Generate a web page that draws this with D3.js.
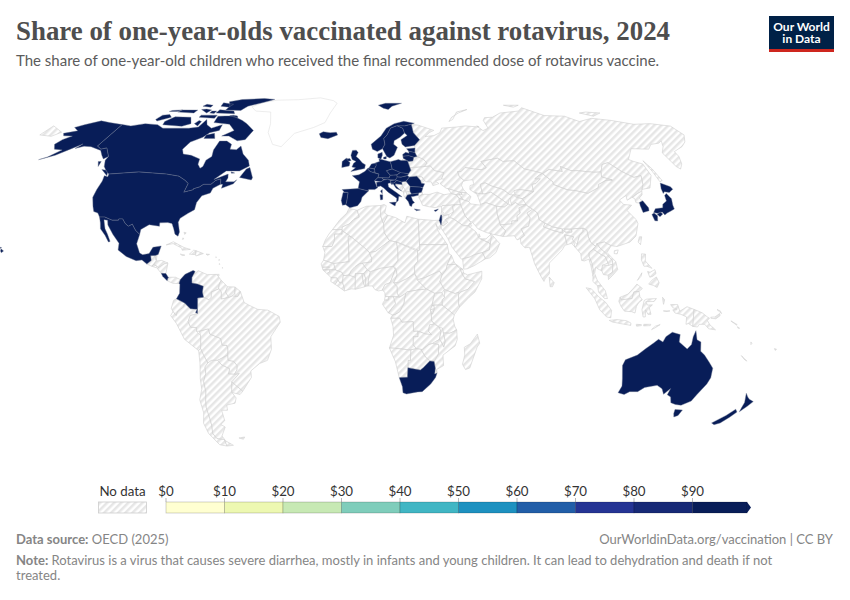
<!DOCTYPE html>
<html>
<head>
<meta charset="utf-8">
<script src="https://cdn.jsdelivr.net/npm/d3@7"></script>
<style>
body { margin: 0; background: #fff; }
svg { display: block; font-family: Lato, sans-serif; }
</style>
</head>
<body>
<svg id="chart" width="850" height="600"></svg>
<script>
const legend_values = [0, 10, 20, 30, 40, 50, 60, 70, 80, 90];
const legend_colors = ["#ffffd1", "#edf8b1", "#c7e9b4", "#7fcdbb", "#41b6c4", "#1d91c0", "#225ea8", "#253494", "#172976", "#081d58"];

// the picture only shows that all of these sit in the top bin
const reported_countries = ["USA", "Canada", "Mexico", "Costa Rica", "Colombia", "Iceland", "Ireland", "UK", "Norway", "Sweden", "Finland", "Denmark", "Estonia", "Latvia", "Lithuania", "Poland", "Germany", "Netherlands", "Belgium", "Luxembourg", "France", "Spain", "Portugal", "Switzerland", "Austria", "Italy", "Czechia", "Slovakia", "Hungary", "Slovenia", "Croatia", "Romania", "Bulgaria", "Greece", "Cyprus", "Israel", "South Korea", "Japan", "Australia", "New Zealand", "South Africa"];
const reported_shares = [95, 95, 95, 95, 95, 95, 95, 95, 95, 95, 95, 95, 95, 95, 95, 95, 95, 95, 95, 95, 95, 95, 95, 95, 95, 95, 95, 95, 95, 95, 95, 95, 95, 95, 95, 95, 95, 95, 95, 95, 95];

// rough country outlines, "lon,lat lon,lat ..." one string per landmass
const outlines = {
	"Canada": ["-141,69.6 -135,69 -128,70 -120,69.5 -115,68 -108,68 -100,68 -95,68.5 -94,72 -91,69.5 -87,68 -82,69.5 -81.5,67 -86,66 -88,64 -93,62 -94.5,59 -92.5,57 -88,56.5 -82.5,55 -82,52.9 -80,51.3 -79,52 -79,54.5 -77,56 -78,58.7 -77.5,62.4 -73.5,62.4 -70,61 -69.5,59 -66,58.8 -64.5,60.3 -61.5,57 -57.5,54.5 -56,52.2 -60,50.2 -66.5,50.2 -71,46.9 -65,49 -64.5,47.5 -65,46 -61,46 -60,46.8 -61,45.2 -66,43.5 -66,45 -67,45 -67.8,47.1 -70,46.5 -71.5,45 -75,45 -76.5,44 -79,43.3 -79,42.9 -83,42 -82.5,45.3 -84.5,46.5 -88.5,48.2 -95,49 -123,49 -125,50 -128,52 -130,54.5 -130,56 -135,59.5 -137.5,59 -141,60.3",
		"-80,73.7 -72,71.5 -68,70 -62,67 -64,63 -68,62.5 -74,64.5 -78,64.5 -73,67 -78,69.7 -88,70.5 -89,73.5",
		"-117,69.5 -105,68.8 -101,70 -105,73 -115,73.2 -118,71",
		"-125,72 -123,71.2 -117,73 -120,74.3 -124,74",
		"-62,82.5 -70,83.1 -85,82.4 -92,81 -88,78.5 -88,76.5 -78,76.3 -76,78.5 -68,80.5",
		"-92,75 -80,74.7 -82,76 -92,76.7",
		"-95,80.3 -87,79.5 -88,78 -94,78.5",
		"-117,75.5 -106,75 -106,76.5 -116,76.6",
		"-100,73 -90,72.5 -90,74 -100,74",
		"-87,63.5 -81,63.5 -83,65.7 -87,65",
		"-59,47.7 -53,46.7 -52.7,47.6 -55.5,51.6 -57,51",
		"-128,50.8 -123.5,48.4 -124,49.5 -125.5,50.5",
		"-133,54 -131.5,54 -131,52",
		"-122,76.3 -116,76.6 -118,75.8 -123,75.8",
		"-104,76.8 -98,75 -97,76.5 -101,77",
		"-96,75 -93,74.8 -93,76 -96,76",
		"-106,78.5 -100,78 -100,79 -105,79.5",
		"-99,70 -96,69 -96,71 -98,71.5",
		"-82,73.7 -76,72.7 -77,73.6 -80,74",
		"-64,49.9 -62,49.4 -63.5,49.3"],
	"USA": ["-123,49 -95,49 -88.5,48.2 -84.5,46.5 -82.5,45.3 -83,42 -79,42.9 -79,43.3 -76.5,44 -75,45 -71.5,45 -70,46.5 -67.8,47.1 -67,45 -70,43.5 -70.5,41.7 -74,40.6 -75.5,38 -75.5,35.3 -78,33.9 -81,32 -81.4,30.5 -80,26.8 -80.3,25.2 -81.8,26 -82.8,28 -84,30 -86,30.4 -89.5,30.3 -89.3,29 -94,29.6 -97.2,27.8 -97.2,25.9 -99.5,27.5 -101.5,29.8 -103,29 -104.7,30 -106.5,31.8 -108.2,31.8 -108.2,31.3 -111,31.3 -114.8,32.5 -117.1,32.5 -118.5,34 -120.6,34.6 -122,36.6 -124,40 -124.2,43 -124,46.3 -124.7,48.4 -122.7,48",
		"-141,69.6 -141,60.3 -137.5,59 -135,59.5 -130,56 -131.5,55 -134,56.5 -137,58.5 -144,60 -148,60.2 -151.5,59.3 -150,61.2 -154,58.8 -158,56.5 -164,54.7 -161,55.8 -157.5,58.7 -162,59 -165,61 -164,63 -161,64.5 -166,64.6 -168,65.7 -162,66.8 -166.5,68.3 -163,69.5 -156.5,71.3 -150,70.5",
		"-156.1,20.4 -154.8,19.6 -155.6,18.9 -156.1,19.6",
		"-156.7,21 -156,20.9 -156.4,20.5",
		"-158.3,21.7 -157.6,21.4 -158.1,21.2",
		"-159.8,22.2 -159.3,22.2 -159.5,21.8"],
	"Mexico": ["-117.1,32.5 -114.8,32.5 -111,31.3 -108.2,31.3 -108.2,31.8 -106.5,31.8 -104.7,30 -103,29 -101.5,29.8 -99.5,27.5 -97.2,25.9 -97.8,22.3 -95.9,18.8 -94.5,18.2 -91.8,18.6 -90.5,21 -87,21.5 -87.8,18.3 -89,17.9 -91,17.8 -90.5,16 -92.2,14.6 -94.5,16.2 -97,15.9 -101.5,17.5 -105.4,20 -105.5,22.5 -109,26 -112.2,29.5 -113,31.3 -114.7,31.5 -113,28 -111.3,26 -109.5,23.2 -110.2,23 -112.2,25.5 -115,28 -115.8,30.3"],
	"Greenland": ["-73,78.2 -68,80.5 -60,82 -45,82.3 -30,83.5 -20,81.7 -17,80 -20,75 -22,70.5 -28,68.3 -38,65.7 -43,60 -48,61 -53,66 -54,70 -58,75.5 -68,76"],
	"Guatemala": ["-92.2,14.6 -90.5,16 -91,17.8 -89.2,17.8 -88.3,15.8 -89.2,14.5 -90,13.8"],
	"Belize": ["-89.2,17.8 -88.3,18.4 -88.3,16"],
	"El Salvador": ["-90,13.8 -89.2,14.4 -87.7,13.8 -88,13.2"],
	"Honduras": ["-89.2,14.5 -88.3,15.8 -86,16 -83.2,15 -84.7,14.7 -87,13 -87.7,13.8"],
	"Nicaragua": ["-87.6,13 -84.7,14.7 -83.2,15 -83.7,11 -85.7,11.1"],
	"Costa Rica": ["-85.7,11.1 -83.7,11 -82.6,9.6 -83,8.3 -85,10"],
	"Panama": ["-83,8.3 -82.6,9.6 -79.5,9.6 -77.4,8.7 -77.9,7.2 -80.5,7.3"],
	"Cuba": ["-84.9,21.9 -82,23.1 -77,20.9 -74.2,20.2 -77.7,19.9 -78,20.7 -82,22.4"],
	"Jamaica": ["-78.3,18.4 -76.3,18 -77.5,17.9"],
	"Haiti": ["-74.4,18.4 -72.7,19.9 -71.7,19.7 -71.7,18.2"],
	"Dominican Republic": ["-71.7,19.7 -68.4,18.6 -71.5,17.7 -71.7,18.2"],
	"Puerto Rico": ["-67.2,18.4 -65.7,18.3 -66.5,18"],
	"Bahamas": ["-78,26.7 -77,26.5 -77.5,25.9", "-78,24.6 -77.6,24.2 -78.2,24"],
	"Antilles": ["-61.7,10.7 -61,10.7 -61,10.1 -61.8,10.1", "-61.5,16.3 -61.1,16.2 -61.5,16", "-61.1,14.8 -60.9,14.5 -61.2,14.5", "-59.7,13.3 -59.5,13.1 -59.7,13", "-62.9,17.4 -62.6,17.2 -62.9,17.1"],
	"Colombia": ["-77.4,8.7 -75.5,10.7 -72.2,12.2 -71.3,11.8 -72.5,9.5 -72.4,7.4 -70,7 -67.5,6.2 -67.8,4 -67.3,2 -69.8,1.7 -69.9,-4.2 -70.7,-3.8 -70,-2.6 -72.9,-2.4 -75.3,-0.2 -78.8,1.4 -77.5,3.5 -77.5,7 -77.9,7.2"],
	"Venezuela": ["-72.2,12.2 -71.3,11.8 -71.6,10.8 -70,12.1 -66,10.6 -62,10.7 -60,8.5 -60.7,7 -61,5 -60.7,5.2 -64,4 -64,2 -65,1 -67.3,2 -67.8,4 -67.5,6.2 -70,7 -72.4,7.4 -72.5,9.5"],
	"Guyana": ["-60,8.5 -57.2,6 -58,4 -56.5,1.9 -59.8,1.3 -59.8,4 -61,5 -60.7,7"],
	"Suriname": ["-57.2,6 -54,5.9 -54,3.6 -55,2.5 -56.5,1.9 -58,4"],
	"French Guiana": ["-54,5.9 -51.7,4.2 -52.7,2.3 -54,2.3"],
	"Ecuador": ["-78.8,1.4 -75.3,-0.2 -75.6,-1.6 -78.3,-3.4 -79,-5 -80.3,-3.4 -81,-2.2 -80,0.8"],
	"Peru": ["-80.3,-3.4 -79,-5 -78.3,-3.4 -75.6,-1.6 -75.3,-0.2 -72.9,-2.4 -70,-2.6 -70.7,-3.8 -69.9,-4.2 -73,-5 -74,-7.3 -73,-9.4 -70.5,-9.5 -70.6,-11 -69,-12.5 -69.2,-16 -69.5,-17.5 -70.4,-18.3 -76,-14 -79,-8 -81.3,-5"],
	"Bolivia": ["-69.5,-10.9 -65.5,-10 -65,-12 -60.5,-13.7 -60,-16.2 -58,-16.3 -57.7,-18 -58,-20 -62.6,-22 -65.2,-22 -67,-23 -68.5,-20 -69.5,-17.5 -69.2,-16 -69,-12.5"],
	"Paraguay": ["-58,-20 -62.6,-22 -61,-23.8 -57.8,-25.2 -58.6,-27.2 -56,-27.3 -54.6,-25.6 -54.3,-24 -55.8,-22.3 -58,-22"],
	"Chile": ["-70.4,-18.3 -69.5,-17.5 -68.5,-20 -67,-23 -68.4,-24.5 -68.5,-27 -70,-30 -70,-34 -71,-37 -71.7,-40 -71.7,-44 -72,-47 -73,-50 -72,-52 -68.4,-52.4 -68.6,-55 -72,-54.5 -75,-50 -75.5,-46 -73.7,-42 -73.7,-37 -71.6,-33 -71.3,-29 -70.4,-23"],
	"Argentina": ["-65.2,-22 -62.6,-22 -61,-23.8 -57.8,-25.2 -58.6,-27.2 -56,-27.3 -53.8,-27 -57.6,-30.2 -58.2,-33 -58.4,-34.2 -57,-36.3 -58,-38.3 -62,-39 -62.3,-41 -65,-41 -65,-45 -67.5,-46.5 -65.8,-47.5 -69,-51 -68.4,-52.4 -72,-52 -73,-50 -72,-47 -71.7,-44 -71.7,-40 -71,-37 -70,-34 -70,-30 -68.5,-27 -68.4,-24.5 -67,-23",
		"-68.6,-52.7 -68.6,-55 -65.2,-54.7"],
	"Uruguay": ["-57.6,-30.2 -53.4,-33.7 -54.9,-35 -58.4,-34.2 -58.2,-33"],
	"Brazil": ["-51.7,4.2 -50,0 -48,-1 -44.3,-2.6 -40,-2.9 -35.2,-5.3 -34.8,-7.5 -39,-13 -39,-17.8 -41,-22 -44.5,-23.2 -48.6,-26 -48.7,-28.5 -53.4,-33.7 -57.6,-30.2 -53.8,-27 -56,-27.3 -54.6,-25.6 -54.3,-24 -55.8,-22.3 -58,-22 -58,-20 -57.7,-18 -58,-16.3 -60,-16.2 -60.5,-13.7 -65,-12 -65.5,-10 -69.5,-10.9 -70.6,-11 -70.5,-9.5 -73,-9.4 -74,-7.3 -73,-5 -69.9,-4.2 -69.8,1.7 -67.3,2 -65,1 -64,2 -64,4 -60.7,5.2 -59.8,4 -59.8,1.3 -56.5,1.9 -55,2.5 -54,2.3 -52.7,2.3"],
	"Falkland Islands": ["-61,-51.8 -58,-51.4 -59,-52.3"],
	"Morocco": ["-5.9,35.8 -2.2,35.1 -1.2,32.5 -3.6,31.6 -5.5,29.9 -8.7,28.7 -8.7,27.7 -13,27.7 -9.8,31.5 -6.8,34"],
	"Western Sahara": ["-13,27.7 -8.7,27.7 -8.7,26 -12,26 -12,23.4 -13,21.3 -17,21.3 -16,23.7 -14.5,26"],
	"Algeria": ["-2.2,35.1 2,36.6 8.6,36.9 8.3,33 9.5,30 9.8,26.5 12,23.5 5.8,19.4 3.2,19 1.2,20.7 -4.8,25 -8.7,27.3 -8.7,28.7 -5.5,29.9 -3.6,31.6 -1.2,32.5"],
	"Tunisia": ["8.6,36.9 10,37.3 11,36.8 10.2,34 11.5,33.2 9.5,30 8.3,33"],
	"Libya": ["11.5,33.2 15,32.3 19,30.3 20,32.8 25,31.7 25,20 24,19.5 24,20 15,23 12,23.5 9.8,26.5 9.5,30"],
	"Egypt": ["25,31.7 32,31.2 34.2,31.3 34.9,29.5 34.3,27.8 33.6,28 32.6,30 33.5,27 35.7,23.9 37,22 25,22"],
	"Mauritania": ["-17,21.3 -13,21.3 -12,23.4 -12,26 -8.7,26 -8.7,27.3 -4.8,25 -6,25 -5.5,15.5 -12.2,14.8 -16.5,16.1 -16,19"],
	"Mali": ["-12.2,14.8 -5.5,15.5 -6,25 -4.8,25 1.2,20.7 3.2,19 4.2,16.8 4,15.4 0.2,14.9 -1,14.8 -3,13.6 -4.5,12.2 -5.5,10.4 -8,10.2 -8.5,11.4 -11.4,12.4"],
	"Senegal": ["-16.5,16.1 -12.2,14.8 -11.4,12.4 -16.7,12.4 -17.5,14.7"],
	"Gambia": ["-16.8,13.5 -14,13.6 -14,13.2 -16.8,13.2"],
	"Guinea-Bissau": ["-16.7,12.4 -13.7,12.4 -13.7,11.7 -15,11"],
	"Guinea": ["-13.7,12.4 -11.4,12.4 -8.5,11.4 -8,10.2 -8.3,7.7 -9.4,7.4 -10.7,9.3 -13.2,9.5 -15,11 -13.7,11.7"],
	"Sierra Leone": ["-13.2,9.5 -10.7,9.3 -10.3,8.4 -11.4,6.9 -13.3,8"],
	"Liberia": ["-11.4,6.9 -10.3,8.4 -9.4,7.4 -8.3,7.6 -7.5,5.5 -7.5,4.4"],
	"Cote d'Ivoire": ["-7.5,4.4 -7.5,5.5 -8.3,7.7 -8,10.2 -5.5,10.4 -2.8,9.6 -2.9,5.1 -4.5,5.2"],
	"Burkina Faso": ["-5.5,10.4 -4.5,12.2 -3,13.6 -1,14.8 0.2,14.9 2.2,12.5 0.9,11 -2.8,11 -2.8,9.6"],
	"Ghana": ["-2.9,5 -2.8,11 0,11 0.5,8 1.2,6"],
	"Togo": ["0,11 0.9,11 1.6,9 1.6,6.2 1.2,6 0.5,8"],
	"Benin": ["0.9,11 2.2,12.5 3.6,11.7 2.7,8.5 2.7,6.3 1.6,6.2 1.6,9"],
	"Niger": ["0.2,14.9 4,15.4 4.2,16.8 3.2,19 5.8,19.4 12,23.5 15,23 15.5,20 15.5,16 13.5,13.7 8,13 3.6,11.7 2.2,12.5"],
	"Nigeria": ["2.7,6.3 2.7,8.5 3.6,11.7 8,13 13.5,13.7 14.2,12.4 12,7.5 9.8,6.8 8.6,4.7 7,4.4 5.5,4.9 4.4,6.3"],
	"Cameroon": ["8.6,4.7 9.8,6.8 12,7.5 14.2,12.4 14.5,13 15,10.5 13.5,7.5 15,6 15,3.5 16,2 13.3,2.2 9.8,2.3 9.7,3.9"],
	"Chad": ["13.5,13.7 15.5,16 15.5,20 15,23 24,19.5 24,15.7 22.5,14 22.5,11 19,9 15.5,7.5 13.5,7.5 15,10.5 14.5,13"],
	"Central African Republic": ["15,6 13.5,7.5 15.5,7.5 19,9 22.5,11 23.5,8.7 27.4,5.1 24,4.8 19,4 18.6,3.5 16,2 15,3.5"],
	"Sudan": ["24,19.5 25,20 25,22 37,22 37.5,18.5 38.5,18 36.5,14.3 36,12.5 34.2,10.5 33,12 32,11.5 27,9.5 24,8.7 22.5,11 22.5,14 24,15.7"],
	"South Sudan": ["23.5,8.7 24,8.7 27,9.5 32,11.5 33,12 34.2,10.5 33.2,8 35,5 34,3.7 30.8,3.5 27.4,5.1"],
	"Eritrea": ["36.5,14.3 38.5,18 39.7,15 43.1,12.6 42,12.8 40,14.5"],
	"Ethiopia": ["36.5,14.3 40,14.5 42,12.8 42.7,11 44,9 48,8 45,5 42,4 39.5,3.4 35.9,4.6 35,5 33.2,8 34.2,10.5 36,12.5"],
	"Djibouti": ["42,12.8 43.2,12.5 43.3,11.3 42.7,11"],
	"Somalia": ["42.7,11 43.3,11.3 45,10.5 51.2,11.9 51,9 48,4 45.5,2 41.5,-1.7 41,-0.9 41,3 42,4 45,5 48,8 44,9"],
	"Kenya": ["35,5 35.9,4.6 39.5,3.4 41,3.9 41,-0.9 41.5,-1.7 39.2,-4.7 37.7,-3.6 34,-1 34,1 35,1.9"],
	"Uganda": ["30.8,3.5 34,3.7 35,1.9 34,1 34,-1 30.5,-1 29.6,-1.4 30.2,1.2"],
	"Rwanda": ["29,-1.5 30.5,-1 30.8,-2.3 29,-2.8"],
	"Burundi": ["29,-2.8 30.8,-2.4 30,-4.4 29.4,-4.4"],
	"Tanzania": ["30.5,-1 34,-1 37.7,-3.6 39.2,-4.7 38.8,-6.5 39.5,-9 40.4,-10.5 37.5,-11.7 34.9,-11.6 33,-9.5 29.6,-7 29.4,-4.4 30,-4.4 30.8,-2.4"],
	"DR Congo": ["12.2,-6 13,-4.7 14,-4.5 16,-3.5 17.7,-0.5 18.2,2 18.6,3.5 19,4 24,4.8 27.4,5.1 30.8,3.5 30.2,1.2 29.6,-1.4 29,-2.8 29.4,-4.4 29.6,-7 30.8,-8.2 28.8,-8.5 28.4,-11 29.8,-12.2 27.2,-12 23.9,-10.9 22,-11 21.8,-7.3 17,-7.5 16,-6"],
	"Congo": ["11.2,-4 13,-4.7 14,-4.5 16,-3.5 17.7,-0.5 18.2,2 18.6,3.5 16,2 13.3,2.2 14.2,-0.5 12.5,-2.3"],
	"Gabon": ["9.8,1 9,0 8.7,-0.7 11.2,-4 12.5,-2.3 14.2,-0.5 13.3,2.2 11.3,2.2 11.3,1"],
	"Equatorial Guinea": ["9.6,1 11.3,1 11.3,2.2 9.8,2.3"],
	"Angola": ["12.2,-6 16,-6 17,-7.5 21.8,-7.3 22,-11 23.9,-10.9 24,-13 22,-13 22,-16 23.4,-17.6 21,-18 20,-18 14,-17.4 11.8,-17.3 13.5,-12.5 13.2,-9"],
	"Zambia": ["22,-13 24,-13 23.9,-10.9 27.2,-12 29.8,-12.2 28.4,-11 28.8,-8.5 30.8,-8.2 33,-9.5 33.7,-11 33.2,-14 30.2,-15.6 28.7,-16 26,-17.9 23.4,-17.6 22,-16"],
	"Malawi": ["33,-9.5 34.3,-9.7 34.9,-12 35.7,-14.7 35.2,-17 34.3,-15.5 33.2,-14 33.7,-11"],
	"Mozambique": ["40.4,-10.5 37.5,-11.7 34.9,-11.6 34.9,-12 35.7,-14.7 35.2,-17 34.3,-15.5 33.2,-14 30.2,-15.6 32.9,-16 33,-19.5 31.3,-22.4 32,-25 32.9,-26.8 32.6,-25.5 35.5,-24 35,-20 40,-16.5 40.8,-14"],
	"Zimbabwe": ["26,-17.9 28.7,-16 30.2,-15.6 32.9,-16 33,-19.5 31.3,-22.4 29.4,-22.2 27.5,-20.8 25.3,-17.8"],
	"Botswana": ["21,-18 23.4,-17.6 25.3,-17.8 27.5,-20.8 29.4,-22.2 26.8,-24.7 25.5,-25.7 23,-25.3 20,-24.8 20,-22 21,-22"],
	"Namibia": ["11.8,-17.3 14,-17.4 20,-18 21,-18 21,-22 20,-22 20,-28.4 17,-28.5 16.4,-28.6 14.5,-22.5"],
	"South Africa": ["16.4,-28.6 17,-28.5 20,-28.4 20,-24.8 23,-25.3 25.5,-25.7 26.8,-24.7 29.4,-22.2 31.3,-22.4 32,-25 31.9,-27.2 32.9,-26.8 32.4,-28.5 30.5,-31 27,-33.9 25,-34 20,-34.8 18.4,-34.3 18,-32"],
	"Lesotho": ["27,-29.6 28.5,-28.6 29.4,-29.5 28,-30.6"],
	"Eswatini": ["31,-25.8 32,-26 31.9,-27.2 31,-27.2"],
	"Madagascar": ["49.3,-12 50.5,-15.5 49.5,-17 47,-24.9 45.2,-25.5 43.7,-23.5 44.4,-20 44,-17 46.5,-15.7"],
	"Iceland": ["-24,65.5 -22,66.4 -18,66 -14.5,66.2 -13.6,65 -18.7,63.4 -22.7,63.9"],
	"Ireland": ["-10,54 -8,55.3 -7.2,55 -6.8,54.1 -6,53.5 -6.4,52.2 -10,51.6"],
	"UK": ["-5,58.5 -3,58.6 -2,57.6 -3,56 -1.5,55 0.2,53.4 1.7,52.7 1.3,51.2 -1.5,50.7 -5.5,50 -3.2,51.5 -5,51.8 -4.2,53.3 -3,54 -5,54.8 -5.7,56.5",
		"-7.8,55 -6.2,55.2 -5.5,54.4 -6.8,54.1"],
	"Norway": ["4.9,61 5.5,59 8,58 10.8,59.2 12.3,61 12,63.5 14,65 16.5,68 20,69 25,69 29,69.7 31,70.2 25,71.1 19,70 14,68 10.5,64.5",
		"11,79 16,80 27,80 20,78.5 17,76.8 14,77.5"],
	"Sweden": ["10.8,59.2 12.7,56 14.2,55.4 16.5,56.5 18.8,59.8 17,61 17.5,62.5 21,64 24,65.8 23.5,68 20.5,69.1 16.5,68 14,65 12,63.5 12.3,61"],
	"Finland": ["21.5,61 23,59.9 28,60.5 31.5,62.9 29,66 29,69.7 25,69 20.5,69.1 23.5,68 24,65.8 25.2,64.8 21.3,63"],
	"Denmark": ["8.1,55.5 9.6,54.9 10.5,56.5 10.5,57.7 8.2,57", "11,55.7 12.5,56 12.3,55 11,55"],
	"Estonia": ["23.5,59.2 28,59.5 27.5,57.6 25,58 24.4,58.2"],
	"Latvia": ["21,56.8 22.7,57.7 24.4,57.3 24.4,58.2 25,58 27.5,57.6 28.2,56 26.5,55.7 24,56.3 21,56.1"],
	"Lithuania": ["21,56.1 24,56.3 26.5,55.7 25.7,54.2 23.5,54 21,55.3"],
	"Poland": ["14.2,53.9 18.5,54.8 19.8,54.4 23,54.4 23.6,52 24,50.5 22.6,49.1 19,49.4 14.8,51 14.6,52.5"],
	"Germany": ["6.9,53.5 8.8,54 8.6,55 10,54.8 14.2,53.9 14.6,52.5 14.8,51 12,50.3 13.7,48.6 13,47.5 7.6,47.6 8.2,49 6.3,49.5 6,51 7,52.3"],
	"Netherlands": ["3.4,51.4 4.7,53 7,53.4 7,52.3 6,51 5.8,51.1"],
	"Belgium": ["2.6,51.1 3.4,51.4 5.8,51.1 6.3,50.3 5.8,49.5 4,50"],
	"Luxembourg": ["5.8,50.1 6.3,50 6.3,49.5 5.8,49.5"],
	"France": ["2.6,51.1 4,50 5.8,49.5 8.2,49 7.6,47.6 6,46.4 7,44 7.5,43.8 6,43 3.1,43 3,42.4 -1.8,43.4 -1.2,46 -4.7,48.4 -1.5,48.7 1.5,50.1",
		"8.6,42.4 9.5,43 9.4,41.4"],
	"Spain": ["-9.3,43 -1.8,43.4 3,42.4 0,40 -0.5,38.4 -2,36.8 -5.5,36 -7.4,37.2 -7,38.5 -6.5,41.9 -8.2,42"],
	"Portugal": ["-8.8,41.9 -6.5,41.9 -7,38.5 -7.4,37.2 -8.9,37 -9.5,38.8"],
	"Switzerland": ["6,46.4 7.6,47.6 9.6,47.5 10.4,46.7 9,46"],
	"Austria": ["9.6,47.5 13,47.5 13.7,48.6 16.9,48.7 17,47.7 16,46.7 12.3,46.8 10.4,46.9"],
	"Italy": ["7,44 6.9,45.8 9,46 10.4,46.7 12.3,47 13.7,46.5 13.7,45.6 12.3,45.3 12.5,44 16,41.9 18.5,40.2 17,40.4 16.6,38.8 15.7,38 16,39.7 12.2,42 10.2,43.6 8.8,44.4",
		"12.5,38 15.6,38.2 15,36.7", "8.3,41 9.6,41 9.5,39.2 8.5,39"],
	"Czechia": ["12,50.3 14.8,51 18.8,49.6 16.9,48.7 13.7,48.6"],
	"Slovakia": ["16.9,48.7 18.8,49.6 22.6,49.1 22,48.4 18.8,47.8 17,47.9"],
	"Hungary": ["16,46.7 17,47.9 18.8,47.8 22,48.4 22.9,47.9 21,46.2 18.9,45.9 16.6,46.5"],
	"Slovenia": ["13.7,46.5 16,46.7 16.6,46.5 15.3,45.5 13.7,45.5"],
	"Croatia": ["13.6,45.4 15.3,45.5 16.6,46.5 18.9,45.9 19,44.9 15.9,45.2 15.8,44.7 17.6,43 18.5,42.5 16,43.5 14.8,45.1 14,44.9"],
	"Bosnia": ["15.8,45.2 19,44.9 19.4,44 18.5,42.5 17.6,43 15.8,44.7"],
	"Serbia": ["18.9,45.9 21,46.2 22.7,44.4 22.4,43 22.4,42.3 20.5,42.3 20,43 19.4,44 19,44.9"],
	"Montenegro": ["18.5,42.5 19.4,44 20,43 20,42.6 19.3,41.9"],
	"Albania": ["19.3,41.9 20,42.6 20.6,41.8 21,40.6 20,39.7 19.4,40.5"],
	"North Macedonia": ["20.6,41.9 22.4,42.3 23,41.3 21,40.9"],
	"Greece": ["20,39.7 21,40.9 23,41.3 26.3,41.7 26,40.8 23.5,40.3 22.7,40.3 23.2,38.8 24,38 22.9,37.5 22.5,36.5 21.7,36.8 21.2,38.3",
		"23.6,35.6 26.3,35.2 24.5,34.9"],
	"Bulgaria": ["22.7,44.2 27.5,44 28.6,43.5 27.7,42 26.3,41.7 23,41.3 22.4,42.3 22.4,43"],
	"Romania": ["21,46.2 22.9,47.9 26.5,48.2 28,46.5 28.2,45.4 29.7,45.2 28.6,43.7 27.5,44 22.7,44.2"],
	"Moldova": ["26.6,48.3 29,47.9 30,46.4 28.2,45.5 28,46.5"],
	"Ukraine": ["22.6,49.1 24,50.5 24,51.6 31,52 34,52.3 35.5,50.4 40,49.6 38.2,47.1 35,46.3 36.5,45.3 33.5,44.5 33,46 30.7,46 30,46.4 29,47.9 26.6,48.3 22.9,47.9 22,48.4"],
	"Belarus": ["23.6,52 23.5,54 25.7,54.2 26.5,55.7 28.2,56 31,55 32.7,53.4 31,52 24,51.6"],
	"Cyprus": ["32.4,35 34.5,35.6 33.7,34.9 33,34.6"],
	"Turkey": ["26.1,40 26.7,39 27.5,37 30.5,36.4 33,36.1 36,36.5 36.7,36.9 40,37 44.8,37.2 44.5,39.7 43.5,41.1 41.5,41.5 38,41 35,42 31,41.1 29,41.2 27.5,41", "26.1,40.4 28,41 28.1,42 26.3,41.7"],
	"Russia": ["28,60.5 28,59.5 27.5,57.6 28.2,56 31,55 32.7,53.4 31,52 34,52.3 35.5,50.4 40,49.6 38.2,47.1 39.5,47 37,45.3 39.5,43.5 40.2,43.4 43.5,42.5 46,41.8 48.5,41.8 47.5,43 47,44.6 48,46 49,46.4 47,48 46.8,50 48.5,50 51,51.6 55,51 59,50.7 61.5,51.5 60,54 69,55.3 71,54 76.8,54.3 80,51 85,50 87.8,49.2 92,50.8 98,50 98.5,52 102.3,50.4 106,50.3 113,49.7 116.7,49.8 120,52.8 123.5,53.5 127,50 131,47.7 135,48.4 133,45 131,43 132,43.2 135.3,43.6 140,48.5 140.5,53 137,54 135.2,54.8 142,59.2 151,59 155,61 160,61.5 163,62.5 160,60 156,57.5 156,52 157,51 160,53 162.5,56 163,58 170,60 175,62 179.9,65 179.9,68.9 170,70 160,69.7 150,71.5 140,72.5 130,71 125,73.5 113,73.8 105,77.7 100,76 87,75 80,73 75,72.8 73,71.5 72.8,68 69,66.9 67,69 68,68.5 60,69 55,68.5 46,68 44,66 40,64.7 35,64.3 38,66 41,67 33,69.3 29,69.7 29,66 31.5,62.9",
		"20,54.4 22.8,54.4 21.4,55.2",
		"142,54.3 143,51 143.5,46.5 142,46 142,50",
		"52,71 55,73 68,76.8 60,75.5 55,72",
		"137,75 142,75.5 150,75 143,73.5",
		"95,79 105,79 100,78",
		"-180,69 -170,66.2 -172.5,64.4 -180,65"],
	"Georgia": ["40.2,43.4 43.5,42.5 46,41.8 46.5,41 43.5,41.1 41.5,41.5"],
	"Armenia": ["43.5,41.1 45,41.3 46.5,39 44.8,39.6"],
	"Azerbaijan": ["45,41.3 46.5,41 46,41.8 48.5,41.8 50.3,40.3 48.8,38.4 46.5,39"],
	"Kazakhstan": ["47,48 49,46.4 51.5,46.7 53,46.8 53,45 51,44.5 50.5,43 52.5,41.7 56,41.3 56,45 58.5,45.6 61,44.4 66,43 68.5,41 71,42.6 74,43 80,42.2 80.5,45 82.5,45.3 85.7,47.2 83,47.2 85.7,48.5 87.8,49.2 85,50 80,51 76.8,54.3 71,54 69,55.3 60,54 61.5,51.5 59,50.7 55,51 51,51.6 48.5,50 46.8,50"],
	"Uzbekistan": ["56,41.3 56,45 58.5,45.6 61,44.4 66,43 68.5,41 70.8,41 73,40.8 71,40 67.7,39.5 66.5,37.4 64.5,38.9 60,42 57,41.3"],
	"Turkmenistan": ["53,42 52.5,41.7 56,41.3 57,41.3 60,42 64.5,38.9 66.5,37.4 64.5,36.3 61,36.6 56.5,38 54,37.3 53.5,40"],
	"Kyrgyzstan": ["71,42.6 74,43 80,42.2 76,40.4 73.7,39.5 70,39.8 73,40.8 70.8,41"],
	"Tajikistan": ["68,39.5 70,41 71,40 73.7,39.5 75,37.3 71.5,37 70,38 68,37"],
	"Afghanistan": ["61,36.6 64.5,36.3 66.5,37.4 68,37 70,38 71.5,37 74.8,37.3 71,36 71,34 69.3,33 69,31 66.5,31 66.3,29.9 61,29.5 60.8,31.5 60.5,34"],
	"Pakistan": ["61,29.5 66.3,29.9 66.5,31 69,31 69.3,33 71,34 71,36 74.8,37 77,35.5 74,34 75,32.2 73.5,29 70,28 71,25.5 69,24.3 67.5,23.8 66.5,25.4 61.6,25.1 63,27.2"],
	"Iran": ["44.8,39.6 46.5,39 48.8,38.4 49.5,37.5 54,37 54,37.3 56.5,38 61,36.6 60.5,34 60.8,31.5 61,29.5 63,27.2 61.6,25.1 57,26 54.5,26.6 51,28 49,30.4 47.7,31 46,33 45.4,35 44.8,37.2"],
	"Iraq": ["44.8,37.2 45.4,35 46,33 47.7,31 48.5,30 47.7,30.1 47,29.1 44.7,29.2 40.5,31.9 39,32.3 41,34.4 41,36.6 42.4,37.2"],
	"Syria": ["36,36.5 36.7,36.9 40,37 42.3,37.2 41,36.6 41,34.4 38.8,33.4 36.5,33 35.8,34.6"],
	"Lebanon": ["35.1,33.1 35.8,34.6 36.6,34.2 35.8,33.3"],
	"Israel": ["34.3,31.3 35.1,33.1 35.7,33.3 35.5,31.5 34.9,29.5"],
	"Palestine": ["35,32.5 35.5,32.4 35.5,31.4 34.9,31.4"],
	"Jordan": ["34.9,29.5 35.5,31.5 35.7,32.7 36.5,33 38.8,33.4 39,32.3 37,31.5 38,30.5 36,29.2"],
	"Saudi Arabia": ["34.9,29.4 36,29.2 38,30.5 37,31.5 39,32.3 40.5,31.9 44.7,29.2 47,29.1 47.7,28.5 48.5,28 50,26.8 50.8,24.8 51.6,24.2 55.3,22.7 55.6,22 55,20 52,19 48.5,18.2 46.5,17.3 43.2,16.6 42.7,16.5 39,21 37.3,24.5 35,28"],
	"Yemen": ["43.2,16.6 46.5,17.3 48.5,18.2 52,19 53.1,16.6 48,14 45,12.8 43.5,12.7"],
	"Oman": ["52,19 55,20 55.6,22 56.3,24.9 56.4,26.3 58.7,23.6 59.8,22.4 57.8,19 55,17 53.1,16.6"],
	"UAE": ["51.6,24.2 54,24.2 56.3,25.9 56.3,24.9 55.6,22 55.3,22.7"],
	"Qatar": ["50.8,24.8 51.2,26.1 51.6,25"],
	"Kuwait": ["47.7,28.5 47,29.1 47.7,30.1 48.4,29.3"],
	"India": ["74,34 77,35.5 78.8,34 78.8,31.5 81,30.2 80,28.8 84,27.4 88,26.4 88,28 89,26.8 92,26.8 92,28 97.3,28.3 97,27 95,25.5 94,23.5 93.3,22 92,23.5 91.5,24 92.3,25 88.5,25.7 88.7,24.5 89,22 88,21.8 86.5,20 82.3,16.6 80.3,15 80,11 78,9 77.5,8 76,10.5 74,14.7 73,19 72.5,21 70.5,20.8 69,22.4 69,24.3 71,25.5 70,28 73.5,29 75,32.2"],
	"Nepal": ["80,28.8 81,30.2 84,28.8 88,28 88,26.4 84,27.4"],
	"Bhutan": ["89,26.8 89,28 92,27.8 92,26.8"],
	"Bangladesh": ["88.5,25.7 92.3,25 91.5,24 92,23.5 92.3,21 91,22.5 89,22 88.7,24.5"],
	"Sri Lanka": ["79.8,9.7 81.8,7.5 81,6 80,6"],
	"China": ["73.7,39.5 76,40.4 80,42.2 80.5,45 82.5,45.3 85.7,47.2 83,47.2 85.7,48.5 87.8,49.2 91,46 90.7,45 96,43 100,42.6 105,41.6 111,43.7 112,45 117,46.7 119.8,46.7 115.5,47.9 116.7,49.8 120,52.8 123.5,53.5 127,50 131,47.7 135,48.4 133,45 131,43 130.6,42.4 128,41.5 124.4,40 121.5,38.9 122,40.7 118,39 119,37.3 122.5,37 119.3,35 121.9,31.5 122,30 119.6,25.3 116.5,23 110.5,21.3 108,21.6 106.6,22.3 105.3,23 102,22.4 101.2,21.3 99.3,22.9 98.7,25 98.7,27.5 97.3,28.3 92,28 89,28 88,28 84,28.8 81,30.2 78.8,31.5 78.8,34 77,35.5 74.8,37",
		"109,19.7 110.7,20 110,18.5 108.7,18.6"],
	"Taiwan": ["121,25 122,25 120.8,22 120,23"],
	"Mongolia": ["87.8,49.2 92,50.8 98,50 98.5,52 102.3,50.4 106,50.3 113,49.7 116.7,49.8 115.5,47.9 119.8,46.7 117,46.7 112,45 111,43.7 105,41.6 100,42.6 96,43 90.7,45 91,46"],
	"North Korea": ["124.4,40 128,41.5 130.6,42.4 129.7,41 127.5,39.7 128.3,38.6 126.7,37.8 125,38 125.3,39.5"],
	"South Korea": ["126.6,38 128.5,38.7 129.6,36 129.2,34.9 126.2,34.2 126.3,36.8"],
	"Japan": ["130.9,34.2 132.5,35.7 136,36 136.9,37.4 139.3,38.6 139.9,40.7 141.3,41.5 142.2,39.5 141.2,37 141,35.6 139,34.8 136.9,34 135.5,33.3 134.9,34.4 132.5,33.9",
		"139.9,41.5 140.3,43.3 141.7,45.5 145.3,44.1 145.6,43.1 143,41.9 141,42.2",
		"129.8,33.5 131,34 132.1,33 131.2,31 130,31.1",
		"132.2,33.6 134,34.4 134.8,33.7 133,32.6"],
	"Myanmar": ["92.3,21 93.3,22 94,23.5 95,25.5 97,27 97.3,28.3 98.7,27.5 98.7,25 99.3,22.9 101.2,21.3 100,20.3 98,19 97.8,17.5 98.6,15 99,11.5 98.5,10 98,14 97.5,16.5 95.5,15.8 94.3,16 94.3,18.5"],
	"Thailand": ["100,20.3 101.2,19.5 103,18.3 104.7,17.5 105.5,15 103,14.2 102.5,12 101,12.7 100,13.4 99.3,11 100.2,8.5 102,6.2 101,5.7 100,6.5 98.3,8 98.5,10 99,11.5 98.6,15 97.8,17.5 98,19"],
	"Laos": ["101.2,21.3 102,22.4 103,20.7 105,19 107.5,16 107.5,14.6 105.5,14 105.5,15 104.7,17.5 103,18.3 101.2,19.5 100,20.3"],
	"Cambodia": ["102.5,12 103,14.2 105.5,14.1 107.5,14.6 107,11.5 105,10.4 103,10.6"],
	"Vietnam": ["102,22.4 105.3,23 106.6,22.3 108,21.6 105.7,19 108.9,15.5 109.3,12.5 107,10.4 105,8.7 105,10.4 107,11.5 107.5,14.6 107.5,16 105,19 103,20.7"],
	"Malaysia": ["100.2,6.5 102,6.2 103.4,4.5 104.2,1.5 103,1.5 100.5,4",
		"109.6,2 111.3,2.6 113,3.2 115.5,5.5 117,7 119.2,5.3 117.7,4.2 115.5,4 114.7,1.5 112,1.2 110,1"],
	"Indonesia": ["109,0.5 109.6,2 110,1 112,1.2 114.7,1.5 115.5,4 117.7,4.2 118,2.3 119,1 117.5,0 116.5,-1.5 116,-4 114.5,-3.5 111.5,-3.3 110,-1.5",
		"95.3,5.6 97.5,5.2 100.5,2.2 103.5,0 106,-3 105.8,-5.8 104,-5.5 101,-2.8 98.8,1.5",
		"105.2,-6.8 108.5,-6.5 112.5,-6.9 114.5,-7.8 114.5,-8.7 110,-8 106.5,-7.4",
		"119.5,-5.5 118.9,-2.7 119.8,0.8 120.9,1.3 125,1.5 124,0.4 120.5,0.3 121.2,-1 123.3,-0.9 122,-2 122.8,-4.5 121.5,-4.5 120.5,-2.8 120.4,-5.5",
		"116.8,-8.3 119,-8.4 119,-8.8 117,-9",
		"120,-8.3 123,-8.3 122.8,-8.8 120,-8.9",
		"123.5,-10.3 125,-9 127,-8.4 125,-9.6",
		"127.6,2 128.5,1 128,-0.7 127.7,0.8",
		"128,-3.2 130.8,-3.2 129.5,-3.4",
		"131,-0.8 134,-0.8 135,-3.3 138,-1.6 141,-2.6 141,-9.1 139,-8 138,-8.3 138,-7 138,-5.5 135.5,-4.5 133,-4 132,-2.8 133.8,-2.5 132,-2"],
	"Papua New Guinea": ["141,-2.6 144.5,-3.9 147,-5.6 147.8,-6 146.9,-6.8 148.2,-8.5 150.8,-10.4 147.8,-10 146,-8.3 143.6,-8.3 143,-9.3 141,-9.1",
		"148.3,-5.6 150,-5.5 152,-4.2 152.2,-5 150.5,-6.2 148.4,-6",
		"150.8,-2.7 152.8,-4.2 152.2,-3.2"],
	"Solomon Islands": ["157,-7 159.8,-8.4 159.5,-8.6", "160,-9.2 161,-9.8 160.3,-9.8"],
	"Vanuatu": ["166.7,-15 167.3,-15.5 167,-16"],
	"New Caledonia": ["164,-20.2 167,-22.3 165.5,-21.5"],
	"Fiji": ["177.5,-17.5 178.5,-17.8 178,-18.2"],
	"Philippines": ["120.5,18.5 122.2,18.4 121.6,15.8 124,13 122,13.8 120.7,13.8 120,16.2",
		"122,7 123.5,8.5 125.5,9.7 126.5,7.5 125.5,5.7 124,6.5",
		"122,11.8 123,11.5 125.2,12.5 125.5,11 124,10 122.7,9.6",
		"117.3,8.4 119.5,11.3 119,10"],
	"Australia": ["114.2,-21.8 113.4,-24 114.8,-29 115.7,-31.8 115,-34.3 118,-35 120,-33.9 123.6,-33.9 126,-32.3 131.2,-31.5 134,-32.8 135.7,-34.9 137.8,-32.7 137.5,-35.1 139.5,-35.9 141,-38.1 143.5,-38.8 146.3,-39.1 149.9,-37.5 150.8,-35 153,-31 153.6,-28.6 153,-25 150.7,-22.6 148,-20 146,-18.5 145.3,-15 143.5,-14.2 142.5,-10.7 141.7,-13 141.5,-16 140,-17.7 136,-15 136,-12.2 132.5,-11.3 130,-13 129,-15 127,-14 125,-15.5 122.2,-17.5 119,-20",
		"144.7,-40.7 148.3,-40.9 148,-43 146.5,-43.6 145.4,-42.3"],
	"New Zealand": ["172.7,-34.5 174.5,-36 175.8,-36.8 178.3,-37.7 177,-39.5 175.3,-41.6 174.8,-39.8 174.6,-38",
		"172.7,-40.6 174.3,-41.7 172.8,-43.7 170.6,-45.9 168.4,-46.6 166.5,-45.9 170.5,-43"]
};

const pdfe = [0, .062, .124, .186, .248, .31, .372, .434, .4958, .5571, .6176, .6769, .7346, .7903, .8435, .8936, .9394, .9761, 1];
const plen = [1, .9986, .9954, .99, .9822, .973, .96, .9427, .9216, .8962, .8679, .835, .7986, .7597, .7186, .6732, .6213, .5722, .5322];

function lookup(table, phi) {
	const t = Math.min(Math.abs(phi) * 180 / Math.PI / 5, 17.9999);
	const i = Math.floor(t);
	return table[i] + (table[i + 1] - table[i]) * (t - i);
}

// d3 core has no Robinson, so it gets built from the standard table
function robinson(lambda, phi) {
	return [lambda * lookup(plen, phi), Math.sign(phi) * Math.PI / 2 * lookup(pdfe, phi)];
}

const projection = d3.geoProjection(robinson)
	.scale(135)
	.translate([362, 302.5]);

const geo_path = d3.geoPath(projection);

function toFeature(name) {
	const polygons = outlines[name].map(function(s) {
		const ring = s.split(" ").map(function(p) { return p.split(",").map(Number); });
		ring.push(ring[0]);
		let poly = { type: "Polygon", coordinates: [ring] };
		// d3 wants clockwise rings, flip the ones that came out inside out
		if (d3.geoArea(poly) > 2 * Math.PI) {
			poly = { type: "Polygon", coordinates: [ring.slice().reverse()] };
		}
		return poly.coordinates;
	});
	return { type: "Feature", properties: { name: name }, geometry: { type: "MultiPolygon", coordinates: polygons } };
}

const share_by_country = new Map(reported_countries.map(function(c, i) { return [c, reported_shares[i]]; }));
const color = d3.scaleThreshold().domain(legend_values.slice(1)).range(legend_colors);

const $svg = d3.select("#chart");

const $hatch = $svg.append("defs").append("pattern")
	.attr("id", "hatch")
	.attr("patternUnits", "userSpaceOnUse")
	.attr("width", 5)
	.attr("height", 5)
	.attr("patternTransform", "rotate(45)");
$hatch.append("rect").attr("width", 5).attr("height", 5).attr("fill", "#fff");
$hatch.append("rect").attr("width", 2.5).attr("height", 5).attr("fill", "#e6e6e6");

const features = Object.keys(outlines).map(toFeature);
const no_data = features.filter(function(d) { return !share_by_country.has(d.properties.name); });
const reported = features.filter(function(d) { return share_by_country.has(d.properties.name); });

const $map = $svg.append("g");

$map.selectAll("path.nodata")
	.data(no_data)
	.enter()
	.append("path")
	.attr("class", "nodata")
	.attr("d", geo_path)
	.attr("fill", function(d) { return d.properties.name === "Greenland" ? "#fff" : "url(#hatch)"; })
	.attr("stroke", function(d) { return d.properties.name === "Greenland" ? "#e0e0e0" : "#cfcfcf"; })
	.attr("stroke-width", 0.6);

$map.selectAll("path.reported")
	.data(reported)
	.enter()
	.append("path")
	.attr("class", "reported")
	.attr("d", geo_path)
	.attr("fill", function(d) { return color(share_by_country.get(d.properties.name)); })
	.attr("stroke", "#6d7690")
	.attr("stroke-width", 0.4);

// header
$svg.append("text")
	.attr("x", 16)
	.attr("y", 40)
	.attr("font-family", "'Liberation Serif', serif")
	.attr("font-weight", 700)
	.attr("font-size", 28)
	.attr("fill", "#4e4e4e")
	.attr("textLength", 654)
	.attr("lengthAdjust", "spacingAndGlyphs")
	.text("Share of one-year-olds vaccinated against rotavirus, 2024");

$svg.append("text")
	.attr("x", 16)
	.attr("y", 66)
	.attr("font-size", 15)
	.attr("fill", "#5b5b5b")
	.text("The share of one-year-old children who received the final recommended dose of rotavirus vaccine.");

// logo
const $logo = $svg.append("g");
$logo.append("rect").attr("x", 769).attr("y", 16).attr("width", 65).attr("height", 36).attr("fill", "#002147");
$logo.append("rect").attr("x", 769).attr("y", 49).attr("width", 65).attr("height", 3).attr("fill", "#ce261e");
$logo.append("text")
	.attr("text-anchor", "middle")
	.attr("font-size", 12)
	.attr("font-weight", 700)
	.attr("fill", "#fff")
	.selectAll("tspan")
	.data(["Our World", "in Data"])
	.enter()
	.append("tspan")
	.attr("x", 801.5)
	.attr("y", function(d, i) { return 31 + i * 12; })
	.text(function(d) { return d; });

// legend
const legend_x = d3.scaleLinear().domain([0, 100]).range([166, 751]);
const bar_top = 502;
const bar_h = 11;
const arrow_w = 4;

$svg.append("text")
	.attr("x", 122.5)
	.attr("y", 496)
	.attr("text-anchor", "middle")
	.attr("font-size", 13.3)
	.attr("fill", "#333")
	.text("No data");

$svg.append("rect")
	.attr("x", 98.5)
	.attr("y", bar_top)
	.attr("width", 48)
	.attr("height", bar_h)
	.attr("fill", "url(#hatch)")
	.attr("stroke", "#ccc")
	.attr("stroke-width", 0.8);

const $bins = $svg.append("g");

$bins.selectAll("rect")
	.data(legend_values)
	.enter()
	.append("rect")
	.attr("x", function(d) { return legend_x(d); })
	.attr("y", bar_top)
	.attr("width", function(d) { return legend_x(d + 10) - legend_x(d) - (d === 90 ? arrow_w : 0); })
	.attr("height", bar_h)
	.attr("fill", function(d) { return color(d); })
	.attr("stroke", "#000")
	.attr("stroke-opacity", 0.25)
	.attr("stroke-width", 0.7);

// arrow on the open-ended top bin
$svg.append("path")
	.attr("d", d3.line()([[legend_x(100) - arrow_w, bar_top], [legend_x(100), bar_top + bar_h / 2], [legend_x(100) - arrow_w, bar_top + bar_h]]))
	.attr("fill", legend_colors[legend_colors.length - 1]);

$svg.selectAll("line.legend_tick")
	.data(legend_values)
	.enter()
	.append("line")
	.attr("class", "legend_tick")
	.attr("x1", function(d) { return legend_x(d); })
	.attr("x2", function(d) { return legend_x(d); })
	.attr("y1", bar_top - 4)
	.attr("y2", bar_top)
	.attr("stroke", "#999")
	.attr("stroke-width", 0.7);

$svg.selectAll("text.legend_label")
	.data(legend_values)
	.enter()
	.append("text")
	.attr("class", "legend_label")
	.attr("x", function(d) { return legend_x(d); })
	.attr("y", 496)
	.attr("text-anchor", "middle")
	.attr("font-size", 13.3)
	.attr("fill", "#333")
	.text(function(d) { return "$" + d; });

// footer
const footer_grey = "#858585";
const $source = $svg.append("text").attr("x", 16).attr("y", 544).attr("font-size", 13).attr("fill", footer_grey);
$source.append("tspan").attr("font-weight", 700).text("Data source:");
$source.append("tspan").text(" OECD (2025)");

$svg.append("text")
	.attr("x", 833)
	.attr("y", 544)
	.attr("text-anchor", "end")
	.attr("font-size", 13)
	.attr("fill", footer_grey)
	.text("OurWorldinData.org/vaccination | CC BY");

const $note = $svg.append("text").attr("x", 16).attr("y", 565).attr("font-size", 13).attr("fill", footer_grey);
$note.append("tspan").attr("font-weight", 700).text("Note:");
$note.append("tspan").text(" Rotavirus is a virus that causes severe diarrhea, mostly in infants and young children. It can lead to dehydration and death if not");

$svg.append("text")
	.attr("x", 16)
	.attr("y", 580)
	.attr("font-size", 13)
	.attr("fill", footer_grey)
	.text("treated.");
</script>
</body>
</html>
